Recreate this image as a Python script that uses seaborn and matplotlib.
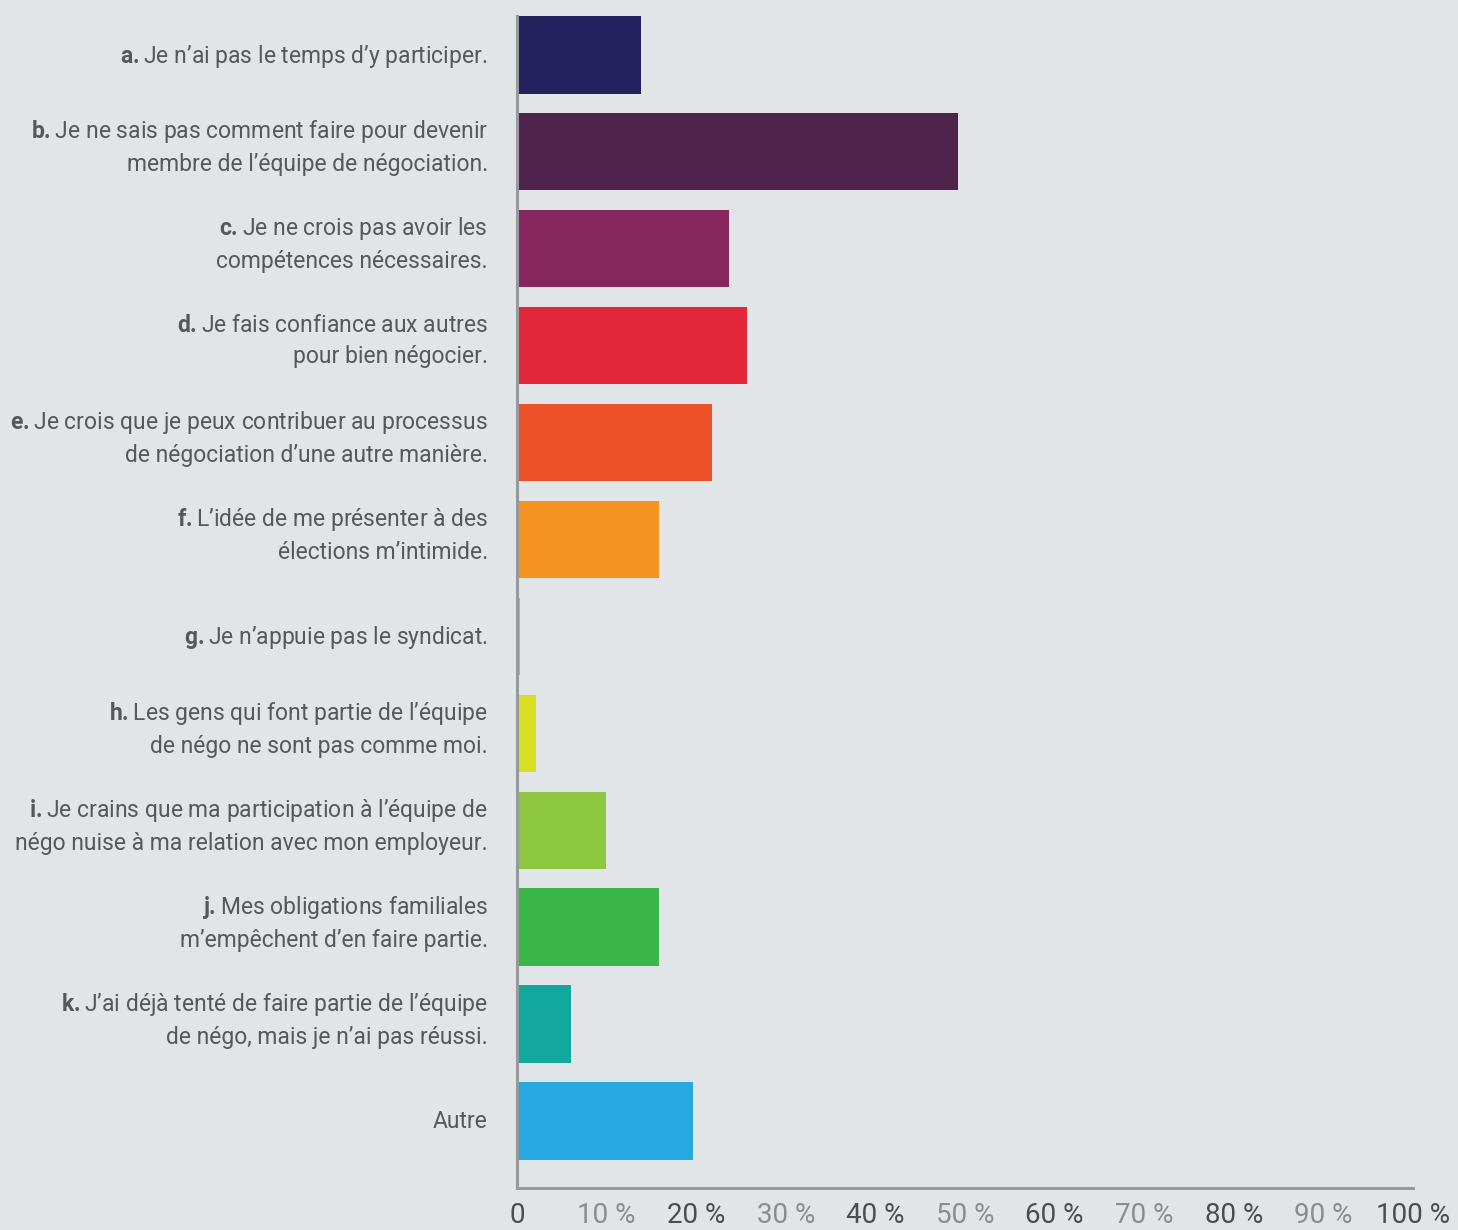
import matplotlib
matplotlib.use("Agg")
import matplotlib.pyplot as plt
import matplotlib.transforms as mtransforms
import seaborn as sns
import pandas as pd

# Survey answers and share of respondents (%)
prefixes = ["a.", "b.", "c.", "d.", "e.", "f.", "g.", "h.", "i.", "j.", "k.", ""]
answers = [
    "Je n\u2019ai pas le temps d\u2019y participer.",
    "Je ne sais pas comment faire pour devenir\nmembre de l\u2019\u00e9quipe de n\u00e9gociation.",
    "Je ne crois pas avoir les\ncomp\u00e9tences n\u00e9cessaires.",
    "Je fais confiance aux autres\npour bien n\u00e9gocier.",
    "Je crois que je peux contribuer au processus\nde n\u00e9gociation d\u2019une autre mani\u00e8re.",
    "L\u2019id\u00e9e de me pr\u00e9senter \u00e0 des\n\u00e9lections m\u2019intimide.",
    "Je n\u2019appuie pas le syndicat.",
    "Les gens qui font partie de l\u2019\u00e9quipe\nde n\u00e9go ne sont pas comme moi.",
    "Je crains que ma participation \u00e0 l\u2019\u00e9quipe de\nn\u00e9go nuise \u00e0 ma relation avec mon employeur.",
    "Mes obligations familiales\nm\u2019emp\u00eachent d\u2019en faire partie.",
    "J\u2019ai d\u00e9j\u00e0 tent\u00e9 de faire partie de l\u2019\u00e9quipe\nde n\u00e9go, mais je n\u2019ai pas r\u00e9ussi.",
    "Autre",
]
values = [13.8, 49.2, 23.7, 25.7, 21.8, 15.8, 0.35, 2.1, 9.9, 15.8, 6.0, 19.6]
colors = ["#24205E", "#4F234C", "#85265F", "#E3273A", "#EC512A", "#F4931F",
          "#F6A623", "#D7DF23", "#8DC63F", "#39B54A", "#13A89E", "#26A9E0"]
xticks = [0, 10, 20, 30, 40, 50, 60, 70, 80, 90, 100]
xtick_labels = ["0"] + [f"{t} %" for t in xticks[1:]]

bg = "#E1E5E8"
text_col = "#56585A"

sns.set_style("white")
plt.rcParams["font.family"] = ["Roboto", "DejaVu Sans"]
plt.rcParams["mathtext.fontset"] = "custom"
plt.rcParams["mathtext.bf"] = "Roboto:bold"

df = pd.DataFrame({"key": [str(i) for i in range(len(values))], "value": values})

fig = plt.figure(figsize=(14.58, 12.30), dpi=100, facecolor=bg)
ax = fig.add_axes([0.3546, 0.0341, 0.6145, 0.9529])
ax.set_facecolor(bg)

sns.barplot(data=df, y="key", x="value", hue="key", palette=colors,
            legend=False, width=0.8, saturation=1, linewidth=0, ax=ax)

ax.set_xlim(0, 100)
ax.set_ylim(11.69, -0.4)
ax.set_xlabel("")
ax.set_ylabel("")

# y labels: bold prefix + regular text
ax.set_yticks(range(len(values)))
labels = []
for p, a in zip(prefixes, answers):
    labels.append(f"$\\mathbf{{{p}}}$" + a if p else a)
ax.set_yticklabels(labels, fontsize=16.5, color=text_col, linespacing=1.45)
ax.tick_params(axis="y", length=0, pad=21)
for lab, a in zip(ax.get_yticklabels(), answers):
    lab.set_horizontalalignment("right")
    lab.set_multialignment("right")
    # two-line labels sit a little above the bar centre in the original
    dy = 8 if "\n" in a else 1.5
    lab.set_transform(lab.get_transform() +
                      mtransforms.ScaledTranslation(0, dy / 72, fig.dpi_scale_trans))

ax.set_xticks(xticks)
ax.set_xticklabels(xtick_labels, fontsize=20)
ax.tick_params(axis="x", direction="in", length=12, width=1.5, color="#8E9194", pad=10)
for i, lab in enumerate(ax.get_xticklabels()):
    lab.set_color("#4A4C4E" if i % 2 == 0 else "#8A8C8F")

for side in ["top", "right"]:
    ax.spines[side].set_visible(False)
for side in ["left", "bottom"]:
    ax.spines[side].set_color("#979A9D")
    ax.spines[side].set_linewidth(2.2)

fig.savefig("out.png", dpi=100, facecolor=bg)
